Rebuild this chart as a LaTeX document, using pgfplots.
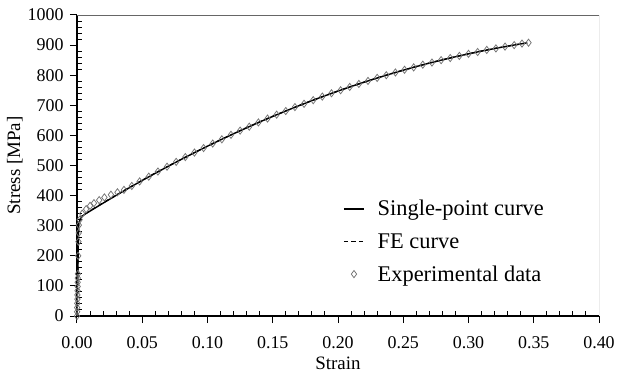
\documentclass[border=0pt]{standalone}
\usepackage{fontspec}
\setmainfont{Liberation Serif}
\usepackage{pgfplots}
\pgfplotsset{compat=1.18}
\begin{document}
\begin{tikzpicture}
\begin{axis}[
  scale only axis,
  width=522bp, height=301bp,
  xmin=0, xmax=0.40, ymin=0, ymax=1000,
  axis x line*=bottom, axis y line*=left,
  axis line style={-, black, line width=1.3bp},
  xtick={0,0.05,...,0.401}, ytick={0,100,...,1000},
  minor x tick num=4, minor y tick num=4,
  tick align=outside,
  major tick length=7bp, minor tick length=5bp,
  every tick/.style={black, line width=1bp},
  minor x tick style={yshift=5bp},
  minor y tick style={xshift=5bp},
  /pgf/number format/assume math mode=true,
  /pgf/number format/1000 sep={},
  tick label style={font=\fontsize{18}{20}\selectfont},
  xticklabel style={/pgf/number format/.cd, fixed, fixed zerofill, precision=2, /tikz/.cd, yshift=-10bp},
  yticklabel style={/pgf/number format/.cd, fixed, precision=0, 1000 sep={}, /tikz/.cd, xshift=-3bp},
  scaled x ticks=false,
  xlabel={Strain}, ylabel={Stress [MPa]},
  label style={font=\fontsize{19}{21}\selectfont},
  xlabel style={yshift=-1bp},
  ylabel style={yshift=-2bp},
  legend cell align=left,
  legend style={draw=none, fill=none, at={(rel axis cs:0.504,0.398)}, anchor=north west,
    font=\fontsize{22.5}{26}\selectfont, row sep=12bp,
    /tikz/every odd column/.append style={column sep=11bp}},
  legend image code/.code={\draw[mark repeat=2,mark phase=2,#1] plot coordinates {(0bp,0bp) (10bp,0bp) (20bp,0bp)};},
]
\addplot[black, line width=1.4bp] coordinates {
(0,0) (0.0013,305) (0.003,328) (0.006,338) (0.01,348.6) (0.02,375.0) (0.03,400.7) (0.04,425.8)
(0.05,450.4) (0.06,474.3) (0.07,497.7) (0.08,520.5) (0.09,542.6) (0.10,564.2)
(0.11,585.2) (0.12,605.6) (0.13,625.4) (0.14,644.6) (0.15,663.2) (0.16,681.2)
(0.17,698.6) (0.18,715.5) (0.19,731.7) (0.20,747.3) (0.21,762.4) (0.22,776.8)
(0.23,790.7) (0.24,803.9) (0.25,816.6) (0.26,828.7) (0.27,840.2) (0.28,851.0)
(0.29,861.3) (0.30,871.0) (0.31,880.1) (0.32,888.6) (0.33,896.5) (0.34,903.9) (0.345,907.3)};
\addlegendentry{Single-point curve}
\addplot[black, line width=1.3bp, dash pattern=on 4.5bp off 3bp] coordinates {
(0,0) (0.0013,306) (0.003,329) (0.006,339) (0.01,349.5) (0.02,376.0) (0.03,401.5) (0.04,426.5)
(0.05,451.0) (0.06,474.8) (0.07,498.0) (0.08,520.8) (0.09,542.8) (0.10,564.4)
(0.11,585.3) (0.12,605.7) (0.13,625.5) (0.14,644.7) (0.15,663.3) (0.16,681.3)
(0.17,698.7) (0.18,715.6) (0.19,731.8) (0.20,747.4) (0.21,762.5) (0.22,776.9)
(0.23,790.8) (0.24,804.0) (0.25,816.7) (0.26,828.8) (0.27,840.3) (0.28,851.1)
(0.29,861.4) (0.30,871.1) (0.31,880.2) (0.32,888.7) (0.33,896.6) (0.34,904.0) (0.345,907.4)};
\addlegendentry{FE curve}
\addplot[only marks, mark=diamond, mark size=3.6bp, draw=black!55, mark options={line width=0.75bp}] coordinates {
(0,0) (0.0001,14) (0.0001,28) (0.0002,42) (0.0003,56) (0.0003,70) (0.0004,84) (0.0005,98)
(0.0005,112) (0.0006,126) (0.0007,140) (0.0009,200) (0.0011,247) (0.0013,276) (0.0014,302)
(0.002,320) (0.004,340) (0.007,355) (0.010,366) (0.013,375) (0.017,385) (0.021,394)
(0.026,403) (0.031,411) (0.036,419) (0.042,432) (0.048,447) (0.055,463) (0.062,480)
(0.069,496) (0.076,512) (0.083,528) (0.090,543) (0.097,558) (0.104,573) (0.111,587)
(0.118,602) (0.125,616) (0.132,629) (0.139,643) (0.146,656) (0.153,669) (0.160,681)
(0.167,694) (0.174,705) (0.181,717) (0.188,729) (0.195,740) (0.202,750) (0.209,761)
(0.216,771) (0.223,781) (0.230,791) (0.237,800) (0.244,809) (0.251,818) (0.258,826)
(0.265,835) (0.272,842) (0.279,850) (0.286,857) (0.293,864) (0.300,871) (0.307,877)
(0.314,884) (0.321,889) (0.328,895) (0.335,900) (0.341,905) (0.346,908)};
\addlegendentry{Experimental data}
\draw[black!60, line width=0.8bp] (rel axis cs:0,1) -- (rel axis cs:1,1) -- (rel axis cs:1,0);
\coordinate (bl) at (rel axis cs:0,0);
\end{axis}
\pgfresetboundingbox
\path (bl) ++(-77bp,-60bp) rectangle ++(617bp,376bp);
\end{tikzpicture}
\end{document}
